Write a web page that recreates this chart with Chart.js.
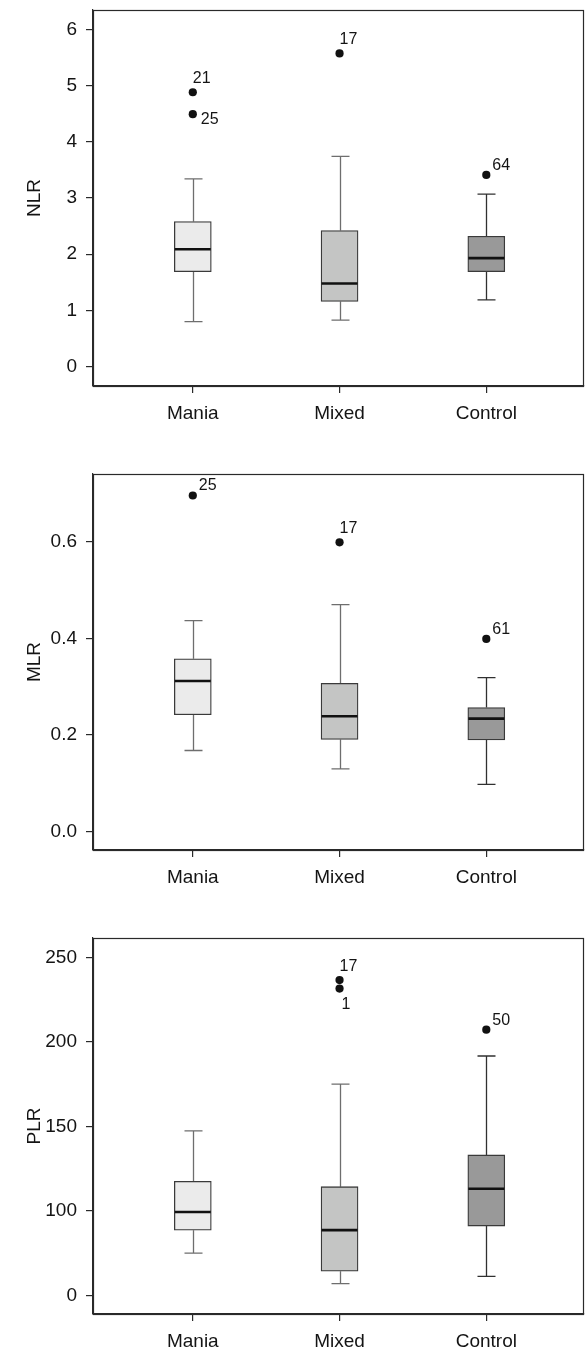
<!DOCTYPE html>
<html><head><meta charset="utf-8">
<script src="https://cdn.jsdelivr.net/npm/chart.js@4.4.1/dist/chart.umd.min.js"></script>
<style>
html,body{margin:0;padding:0;background:#fff;}
.p{position:absolute;left:0;width:588px;}
</style>
</head><body>
<div class="p" style="top:0px;height:450px"><canvas id="c1" width="588" height="450"></canvas></div>
<div class="p" style="top:464px;height:450px"><canvas id="c2" width="588" height="450"></canvas></div>
<div class="p" style="top:928px;height:422px"><canvas id="c3" width="588" height="422"></canvas></div>
<script>
// ---------- data ----------
const categories = ['Mania', 'Mixed', 'Control'];

// NLR
const nlrMin    = [0.80, 0.83, 1.19];
const nlrQ1     = [1.69, 1.16, 1.69];
const nlrMedian = [2.09, 1.48, 1.93];
const nlrQ3     = [2.58, 2.42, 2.32];
const nlrMax    = [3.34, 3.74, 3.07];
const nlrOutlierGroup = [0, 0, 1, 2];
const nlrOutlierValue = [4.88, 4.49, 5.57, 3.41];
const nlrOutlierId    = ['21', '25', '17', '64'];
const nlrTicks      = [0, 1, 2, 3, 4, 5, 6];
const nlrTickLabels = ['0', '1', '2', '3', '4', '5', '6'];

// MLR
const mlrMin    = [0.168, 0.130, 0.098];
const mlrQ1     = [0.242, 0.191, 0.190];
const mlrMedian = [0.312, 0.239, 0.234];
const mlrQ3     = [0.358, 0.307, 0.257];
const mlrMax    = [0.437, 0.470, 0.319];
const mlrOutlierGroup = [0, 1, 2];
const mlrOutlierValue = [0.696, 0.599, 0.399];
const mlrOutlierId    = ['25', '17', '61'];
const mlrTicks      = [0.0, 0.2, 0.4, 0.6];
const mlrTickLabels = ['0.0', '0.2', '0.4', '0.6'];

// PLR
const plrMin    = [75.1, 57.1, 61.3];
const plrQ1     = [88.7, 64.4, 91.1];
const plrMedian = [99.4, 88.7, 113.2];
const plrQ3     = [117.6, 114.4, 133.2];
const plrMax    = [147.4, 175.1, 191.7];
const plrOutlierGroup = [1, 1, 2];
const plrOutlierValue = [236.6, 231.6, 207.3];
const plrOutlierId    = ['17', '1', '50'];
const plrTicks      = [50, 100, 150, 200, 250];
const plrTickLabels = ['0', '100', '150', '200', '250'];

// ---------- styles ----------
const boxFills = ['#ebebeb', '#c4c5c4', '#999999'];
const whiskerColors = ['#6e6e6e', '#6e6e6e', '#303030'];
const FONT = 'Liberation Sans, Arial, Helvetica, sans-serif';
const TEXT = '#141414';

const panelSpecs = {};

const boxPlugin = {
  id: 'boxplot',
  beforeDatasetsDraw(chart) {
    const st = panelSpecs[chart.canvas.id]; if (!st) return;
    const x = chart.scales.x, y = chart.scales.y, ctx = chart.ctx;
    ctx.save();
    ctx.lineWidth = 1.3;
    categories.forEach((c, i) => {
      const px = Math.round(x.getPixelForValue(i + 1)) + 0.5;
      ctx.strokeStyle = whiskerColors[i];
      ctx.beginPath();
      ctx.moveTo(px, y.getPixelForValue(st.q3[i]));
      ctx.lineTo(px, y.getPixelForValue(st.max[i]));
      ctx.moveTo(px, y.getPixelForValue(st.q1[i]));
      ctx.lineTo(px, y.getPixelForValue(st.min[i]));
      [st.max[i], st.min[i]].forEach(v => {
        const py = y.getPixelForValue(v);
        ctx.moveTo(px - 9, py); ctx.lineTo(px + 9, py);
      });
      ctx.stroke();
    });
    ctx.restore();
  },
  afterDatasetsDraw(chart) {
    const st = panelSpecs[chart.canvas.id]; if (!st) return;
    const x = chart.scales.x, y = chart.scales.y, ctx = chart.ctx;
    ctx.save();
    ctx.strokeStyle = '#111';
    ctx.lineWidth = 2.6;
    categories.forEach((c, i) => {
      const px = x.getPixelForValue(i + 1);
      const py = y.getPixelForValue(st.median[i]);
      ctx.beginPath(); ctx.moveTo(px - 18, py); ctx.lineTo(px + 18, py); ctx.stroke();
    });
    // outlier id labels
    ctx.fillStyle = TEXT;
    ctx.font = '16px ' + FONT;
    ctx.textAlign = 'left';
    ctx.textBaseline = 'alphabetic';
    st.outGroup.forEach((g, i) => {
      const px = x.getPixelForValue(g + 1);
      const py = y.getPixelForValue(st.outVal[i]);
      const pos = st.labelPos[i];
      let dx = 0, dy = -9;
      if (pos === 'upright') { dx = 6; dy = -5; }
      else if (pos === 'right') { dx = 8; dy = 10; }
      else if (pos === 'below') { dx = 2; dy = 20; }
      ctx.fillText(st.outId[i], px + dx, py + dy);
    });
    // frame
    const a = chart.chartArea;
    ctx.strokeStyle = '#2a2a2a';
    ctx.lineWidth = 1.2;
    ctx.strokeRect(Math.round(a.left) + 0.5, Math.round(a.top) + 0.5, Math.round(a.right - a.left) - 1, Math.round(a.bottom - a.top));
    ctx.restore();
  }
};

function makeChart(id, d) {
  panelSpecs[id] = d;
  const boxData = categories.map((c, i) => ({ x: i + 1, y: [d.q1[i], d.q3[i]] }));
  const outData = d.outGroup.map((g, i) => ({ x: g + 1, y: d.outVal[i] }));
  new Chart(document.getElementById(id), {
    type: 'bar',
    data: {
      datasets: [
        { type: 'scatter', data: outData, pointRadius: 4.1, pointBackgroundColor: '#111', pointBorderColor: '#111', pointBorderWidth: 0, order: 0 },
        { type: 'bar', data: boxData, backgroundColor: boxFills, borderColor: '#3a3a3a', borderWidth: 1.3, borderSkipped: false, barThickness: 37, grouped: false, order: 1 }
      ]
    },
    options: {
      responsive: false,
      animation: false,
      layout: { padding: { top: 0, right: 2, left: 0, bottom: 0 } },
      plugins: { legend: { display: false }, tooltip: { enabled: false } },
      scales: {
        x: {
          type: 'linear', min: 0.32, max: 3.665, offset: false,
          afterBuildTicks: s => { s.ticks = categories.map((c, i) => ({ value: i + 1 })); },
          afterFit: s => { s.height = d.xHeight; s.paddingLeft = 0; s.paddingRight = 0; },
          ticks: { callback: v => categories[Math.round(v) - 1], font: { family: FONT, size: 19 }, color: TEXT, padding: 9, maxRotation: 0, autoSkip: false },
          grid: { offset: false, drawOnChartArea: false, drawTicks: true, tickLength: 7, color: '#2a2a2a', lineWidth: 1.2 },
          border: { color: '#2a2a2a', width: 1.2 }
        },
        y: {
          type: 'linear', min: d.yMin, max: d.yMax,
          afterBuildTicks: s => { s.ticks = d.ticks.map(v => ({ value: v })); },
          afterFit: s => { s.width = 93; s.paddingTop = 10; s.paddingBottom = 0; },
          ticks: { callback: (v) => { const k = d.ticks.findIndex(t => Math.abs(t - v) < 1e-9); return k >= 0 ? d.tickLabels[k] : ''; }, font: { family: FONT, size: 19 }, color: TEXT, padding: 9, autoSkip: false },
          grid: { drawOnChartArea: false, drawTicks: true, tickLength: 7, color: '#2a2a2a', lineWidth: 1.2 },
          border: { color: '#2a2a2a', width: 1.2 },
          title: { display: true, text: d.title, font: { family: FONT, size: 19 }, color: TEXT, padding: { top: 23, bottom: 0 } }
        }
      }
    },
    plugins: [boxPlugin]
  });
}

makeChart('c1', { q1: nlrQ1, q3: nlrQ3, median: nlrMedian, min: nlrMin, max: nlrMax,
  outGroup: nlrOutlierGroup, outVal: nlrOutlierValue, outId: nlrOutlierId, labelPos: ['up', 'right', 'up', 'upright'],
  ticks: nlrTicks, tickLabels: nlrTickLabels, yMin: -0.343, yMax: 6.343, title: 'NLR', xHeight: 64 });
makeChart('c2', { q1: mlrQ1, q3: mlrQ3, median: mlrMedian, min: mlrMin, max: mlrMax,
  outGroup: mlrOutlierGroup, outVal: mlrOutlierValue, outId: mlrOutlierId, labelPos: ['upright', 'up', 'upright'],
  ticks: mlrTicks, tickLabels: mlrTickLabels, yMin: -0.038, yMax: 0.7405, title: 'MLR', xHeight: 64 });
makeChart('c3', { q1: plrQ1, q3: plrQ3, median: plrMedian, min: plrMin, max: plrMax,
  outGroup: plrOutlierGroup, outVal: plrOutlierValue, outId: plrOutlierId, labelPos: ['up', 'below', 'upright'],
  ticks: plrTicks, tickLabels: plrTickLabels, yMin: 39.1, yMax: 261.5, title: 'PLR', xHeight: 36 });
</script>
</body></html>
